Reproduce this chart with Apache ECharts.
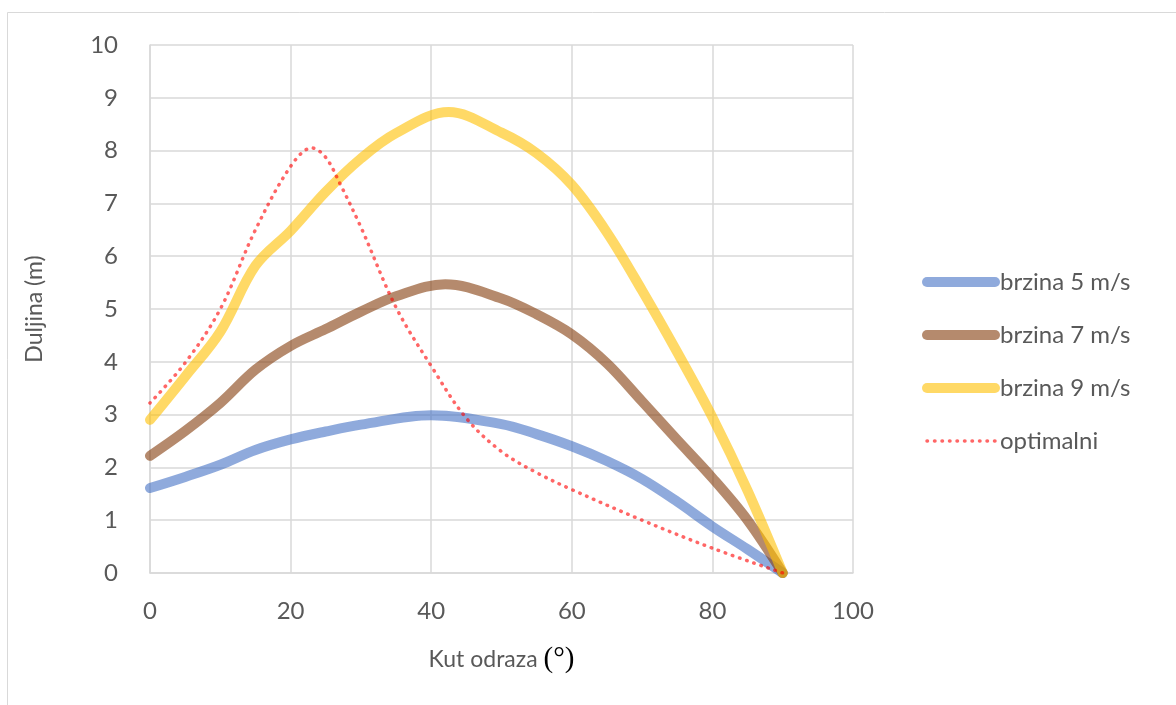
<!DOCTYPE html>
<html>
<head>
<meta charset="utf-8">
<script src="https://cdn.jsdelivr.net/npm/echarts@6/dist/echarts.min.js"></script>
<style>
html,body{margin:0;padding:0;background:#fff;}
#c{width:1176px;height:705px;}
</style>
</head>
<body>
<div id="c"></div>
<script>
// Data
const angles5 = [0,5,10,15,20,25,30,40,50,55,60,65,70,75,80,85,90];
const speed5  = [1.61,1.82,2.05,2.33,2.53,2.68,2.81,2.99,2.82,2.63,2.4,2.12,1.78,1.35,0.88,0.45,0];
const angles7 = [0,5,10,15,20,25,30,35,42,50,55,60,65,70,75,80,85,90];
const speed7  = [2.22,2.69,3.22,3.85,4.3,4.62,4.95,5.24,5.47,5.2,4.9,4.52,3.97,3.25,2.52,1.8,1.0,0];
const angles9 = [0,5,10,15,20,25,30,35,42.5,50,55,60,65,70,75,80,85,90];
const speed9  = [2.9,3.72,4.57,5.82,6.48,7.22,7.85,8.33,8.73,8.34,7.95,7.35,6.45,5.35,4.18,2.95,1.56,0];
const optAngles = [0,5,10,15,20,23,25,27,30,35,40,45,50,55,60,70,80,90];
const optimal   = [3.22,3.98,5.0,6.5,7.7,8.05,7.87,7.38,6.55,5.03,3.92,2.93,2.3,1.9,1.58,1.0,0.47,0];
const xTicks = {min:0, max:100, interval:20};
const yTicks = {min:0, max:10, interval:1};
const names = ['brzina 5 m/s','brzina 7 m/s','brzina 9 m/s','optimalni'];

const pair = (xs, ys) => xs.map((x,i)=>[x, ys[i]]);
const font = 'Lato, "Open Sans", sans-serif';
const gridColor = '#d9d9d9';
const SMOOTH = 0.35;

const chart = echarts.init(document.getElementById('c'), null, {renderer:'canvas'});
chart.setOption({
  animation:false,
  backgroundColor:'#ffffff',
  graphic:[{type:'rect', shape:{x:7.5,y:12.5,width:1200,height:800}, style:{fill:'none', stroke:'#d9d9d9', lineWidth:1}, silent:true, z:-1}],
  grid:{left:150, right:323, top:45, bottom:132, containLabel:false},
  legend:{
    orient:'vertical', left:917, top:262, itemWidth:68, itemHeight:12, itemGap:23,
    textStyle:{fontFamily:font, fontSize:24, color:'#595959', lineHeight:30},
    data:[
      {name:names[0], itemStyle:{opacity:0}, lineStyle:{width:10, cap:'round'}},
      {name:names[1], itemStyle:{opacity:0}, lineStyle:{width:10, cap:'round'}},
      {name:names[2], itemStyle:{opacity:0}, lineStyle:{width:10, cap:'round'}},
      {name:names[3], itemStyle:{opacity:0}, lineStyle:{width:3.5, cap:'round'}}
    ]
  },
  xAxis:{
    type:'value', min:xTicks.min, max:xTicks.max, interval:xTicks.interval,
    name:'{a|Kut odraza }{b|(°)}', nameLocation:'middle', nameGap:72,
    nameTextStyle:{fontFamily:font, fontSize:23, color:'#595959',
      rich:{a:{fontFamily:font, fontSize:23, color:'#595959'}, b:{fontFamily:'"Liberation Serif", serif', fontSize:29, color:'#000000'}}},
    axisLine:{show:true, lineStyle:{color:gridColor, width:1.5}},
    axisTick:{show:false},
    axisLabel:{fontFamily:font, fontSize:24, color:'#595959', margin:26},
    splitLine:{show:true, lineStyle:{color:gridColor, width:1.5}}
  },
  yAxis:{
    type:'value', min:yTicks.min, max:yTicks.max, interval:yTicks.interval,
    name:'Duljina (m)', nameLocation:'middle', nameGap:104,
    nameTextStyle:{fontFamily:font, fontSize:23, color:'#595959'},
    axisLine:{show:true, lineStyle:{color:gridColor, width:1.5}},
    axisTick:{show:false},
    axisLabel:{fontFamily:font, fontSize:24, color:'#595959', margin:32},
    splitLine:{show:true, lineStyle:{color:gridColor, width:1.5}}
  },
  series:[
    {name:names[0], type:'line', smooth:SMOOTH, showSymbol:false, symbol:'none', data:pair(angles5,speed5),
      lineStyle:{color:'rgba(68,114,196,0.6)', width:10, cap:'round', join:'round'}, itemStyle:{color:'rgba(68,114,196,0.6)'}},
    {name:names[1], type:'line', smooth:SMOOTH, showSymbol:false, symbol:'none', data:pair(angles7,speed7),
      lineStyle:{color:'rgba(132,60,12,0.6)', width:10, cap:'round', join:'round'}, itemStyle:{color:'rgba(132,60,12,0.6)'}},
    {name:names[2], type:'line', smooth:SMOOTH, showSymbol:false, symbol:'none', data:pair(angles9,speed9),
      lineStyle:{color:'rgba(255,192,0,0.6)', width:10, cap:'round', join:'round'}, itemStyle:{color:'rgba(255,192,0,0.6)'}},
    {name:names[3], type:'line', smooth:SMOOTH, showSymbol:false, symbol:'none', data:pair(optAngles,optimal),
      lineStyle:{color:'rgba(255,0,0,0.6)', width:3.5, type:[0.5,7], cap:'round'}, itemStyle:{color:'rgba(255,0,0,0.6)'}}
  ]
});
</script>
</body>
</html>
